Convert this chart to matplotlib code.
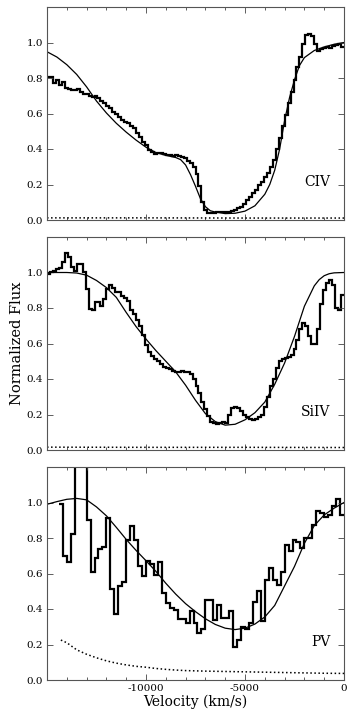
import numpy as np
import matplotlib
matplotlib.use('Agg')
import matplotlib.pyplot as plt
from matplotlib.ticker import MultipleLocator, FixedLocator

plt.rcParams['font.family'] = 'DejaVu Serif'
plt.rcParams['axes.unicode_minus'] = False

# ---- CIV ----
civ_edges = np.arange(-15000, 1, 150)
civ_flux = [0.805, 0.805, 0.77, 0.79, 0.758, 0.78, 0.745, 0.74, 0.735, 0.73,
            0.74, 0.72, 0.71, 0.71, 0.70, 0.695, 0.70, 0.69, 0.67, 0.66,
            0.645, 0.63, 0.61, 0.595, 0.58, 0.565, 0.55, 0.545, 0.53, 0.52,
            0.49, 0.465, 0.44, 0.42, 0.395, 0.385, 0.37, 0.375, 0.38, 0.37,
            0.365, 0.365, 0.36, 0.365, 0.36, 0.355, 0.35, 0.335, 0.32, 0.30,
            0.26, 0.19, 0.10, 0.055, 0.042, 0.04, 0.042, 0.045, 0.045, 0.043,
            0.045, 0.045, 0.05, 0.056, 0.065, 0.075, 0.09, 0.11, 0.13, 0.15,
            0.17, 0.195, 0.215, 0.24, 0.265, 0.30, 0.34, 0.40, 0.46, 0.53,
            0.59, 0.66, 0.72, 0.79, 0.86, 0.92, 0.99, 1.045, 1.05, 1.035,
            0.99, 0.95, 0.965, 0.97, 0.975, 0.97, 0.98, 0.985, 0.99, 0.975]
civ_model_v = [-15000, -14500, -14000, -13500, -13000, -12500, -12000, -11500,
               -11000, -10500, -10000, -9500, -9000, -8500, -8250, -8000, -7750,
               -7500, -7250, -7000, -6750, -6500, -6000, -5500, -5000, -4500,
               -4000, -3750, -3500, -3250, -3000, -2750, -2500, -2250, -2000,
               -1500, -1000, -500, 0]
civ_model_f = [0.948, 0.918, 0.875, 0.82, 0.75, 0.67, 0.603, 0.545, 0.495, 0.45,
               0.41, 0.38, 0.364, 0.352, 0.34, 0.31, 0.255, 0.19, 0.12, 0.075,
               0.052, 0.045, 0.036, 0.038, 0.05, 0.08, 0.145, 0.20, 0.28, 0.40,
               0.56, 0.69, 0.79, 0.87, 0.915, 0.955, 0.975, 0.99, 1.0]
civ_err_v = [-15000, -10000, -5000, 0]
civ_err_f = [0.012, 0.012, 0.011, 0.011]

# ---- SiIV ----
siiv_edges = np.arange(-15000, 1, 150)
siiv_flux = [0.99, 1.005, 1.01, 1.02, 1.025, 1.06, 1.11, 1.085, 1.03, 1.01,
             1.05, 1.05, 1.0, 0.905, 0.795, 0.79, 0.835, 0.835, 0.81, 0.85,
             0.905, 0.927, 0.915, 0.89, 0.89, 0.87, 0.858, 0.84, 0.79, 0.764,
             0.73, 0.70, 0.65, 0.59, 0.55, 0.53, 0.51, 0.50, 0.487, 0.47,
             0.46, 0.457, 0.443, 0.44, 0.44, 0.445, 0.44, 0.44, 0.43, 0.40,
             0.36, 0.32, 0.27, 0.23, 0.19, 0.16, 0.15, 0.145, 0.15, 0.16,
             0.15, 0.20, 0.235, 0.245, 0.235, 0.22, 0.20, 0.185, 0.175, 0.17,
             0.175, 0.185, 0.20, 0.24, 0.30, 0.36, 0.40, 0.46, 0.50, 0.515,
             0.52, 0.525, 0.535, 0.57, 0.62, 0.68, 0.715, 0.70, 0.64, 0.60,
             0.60, 0.68, 0.82, 0.90, 0.94, 0.96, 0.93, 0.80, 0.79, 0.875]
siiv_model_v = [-15000, -14500, -14000, -13500, -13000, -12500, -12000, -11500,
                -11000, -10500, -10000, -9500, -9000, -8500, -8000, -7500, -7000,
                -6500, -6000, -5500, -5000, -4500, -4000, -3500, -3000, -2500,
                -2000, -1500, -1250, -1000, -750, -500, 0]
siiv_model_f = [1.0, 1.0, 1.0, 0.997, 0.985, 0.955, 0.915, 0.86, 0.775, 0.695,
                0.625, 0.56, 0.50, 0.44, 0.365, 0.28, 0.205, 0.16, 0.14, 0.145,
                0.17, 0.21, 0.27, 0.37, 0.49, 0.64, 0.81, 0.925, 0.96, 0.982,
                0.993, 0.998, 1.0]
siiv_err_v = [-15000, -10000, -5000, 0]
siiv_err_f = [0.016, 0.015, 0.015, 0.014]

# ---- PV ----
pv_edges = np.arange(-14400, 1, 200)
pv_flux = [0.99, 0.70, 0.663, 0.82, 1.35, 1.35, 1.35, 0.90, 0.61, 0.69,
           0.737, 0.752, 0.913, 0.51, 0.37, 0.53, 0.55, 0.79, 0.87, 0.79,
           0.645, 0.588, 0.67, 0.655, 0.59, 0.665, 0.49, 0.435, 0.405, 0.395,
           0.345, 0.345, 0.32, 0.39, 0.32, 0.262, 0.29, 0.45, 0.45, 0.337,
           0.423, 0.347, 0.347, 0.39, 0.187, 0.224, 0.30, 0.285, 0.32, 0.44,
           0.50, 0.33, 0.565, 0.63, 0.565, 0.535, 0.606, 0.762, 0.725, 0.79,
           0.78, 0.743, 0.80, 0.80, 0.875, 0.95, 0.94, 0.92, 0.93, 0.98,
           1.02, 0.93]
pv_model_v = [-15000, -14500, -14000, -13500, -13000, -12500, -12000, -11500,
              -11000, -10500, -10000, -9500, -9000, -8500, -8000, -7500, -7000,
              -6500, -6000, -5500, -5000, -4500, -4000, -3500, -3000, -2500,
              -2000, -1500, -1000, -500, 0]
pv_model_f = [0.99, 1.005, 1.018, 1.023, 1.015, 0.975, 0.925, 0.86, 0.792,
              0.73, 0.672, 0.612, 0.545, 0.484, 0.43, 0.385, 0.345, 0.313,
              0.292, 0.284, 0.292, 0.315, 0.355, 0.42, 0.53, 0.64, 0.77, 0.87,
              0.93, 0.968, 1.0]
pv_err_v = [-14300, -14000, -13500, -13000, -12500, -12000, -11500, -11000,
            -10500, -10000, -9500, -9000, -8500, -8000, -7000, -6000, -5000,
            -4000, -3000, -2000, -1000, 0]
pv_err_f = [0.225, 0.21, 0.17, 0.145, 0.125, 0.108, 0.095, 0.085, 0.077, 0.072,
            0.065, 0.06, 0.056, 0.053, 0.05, 0.048, 0.046, 0.044, 0.042, 0.04,
            0.038, 0.037]

ions = ['CIV', 'SiIV', 'PV']
panels = [
    (civ_edges, civ_flux, civ_model_v, civ_model_f, civ_err_v, civ_err_f),
    (siiv_edges, siiv_flux, siiv_model_v, siiv_model_f, siiv_err_v, siiv_err_f),
    (pv_edges, pv_flux, pv_model_v, pv_model_f, pv_err_v, pv_err_f),
]

fig = plt.figure(figsize=(3.55, 7.23), dpi=100)
left = 47 / 355
width = (344 - 47) / 355
tops = [7, 237, 467]
bottoms = [220, 450, 680]

for i, (name, (edges, flux, mv, mf, ev, ef)) in enumerate(zip(ions, panels)):
    b = 1 - bottoms[i] / 723
    h = (bottoms[i] - tops[i]) / 723
    ax = fig.add_axes([left, b, width, h])
    ax.stairs(flux, edges, baseline=None, color='black', linewidth=1.6)
    ax.plot(mv, mf, color='black', linewidth=0.9)
    ax.plot(ev, ef, color='black', linestyle=':', linewidth=1.1)
    ax.set_xlim(-15000, 0)
    ax.set_ylim(0, 1.2)
    ax.xaxis.set_major_locator(FixedLocator([-10000, -5000, 0]))
    ax.xaxis.set_minor_locator(MultipleLocator(1000))
    ax.yaxis.set_major_locator(FixedLocator([0.0, 0.2, 0.4, 0.6, 0.8, 1.0]))
    ax.tick_params(which='both', direction='in', top=True, right=True,
                   labelsize=7.5, color='#444444', pad=3)
    ax.tick_params(which='major', length=4, width=0.6)
    ax.tick_params(which='minor', length=2, width=0.6)
    for s in ax.spines.values():
        s.set_color('#555555')
        s.set_linewidth(0.8)
    ax.text(0.955, 0.16, name, transform=ax.transAxes, ha='right',
            va='baseline', fontsize=10)
    if i < 2:
        ax.set_xticklabels([])
    else:
        ax.set_xlabel('Velocity (km/s)', fontsize=10, labelpad=1)
    if i == 1:
        ax.set_ylabel('Normalized Flux', fontsize=10.5, labelpad=2)

fig.savefig('out.png', dpi=100)
